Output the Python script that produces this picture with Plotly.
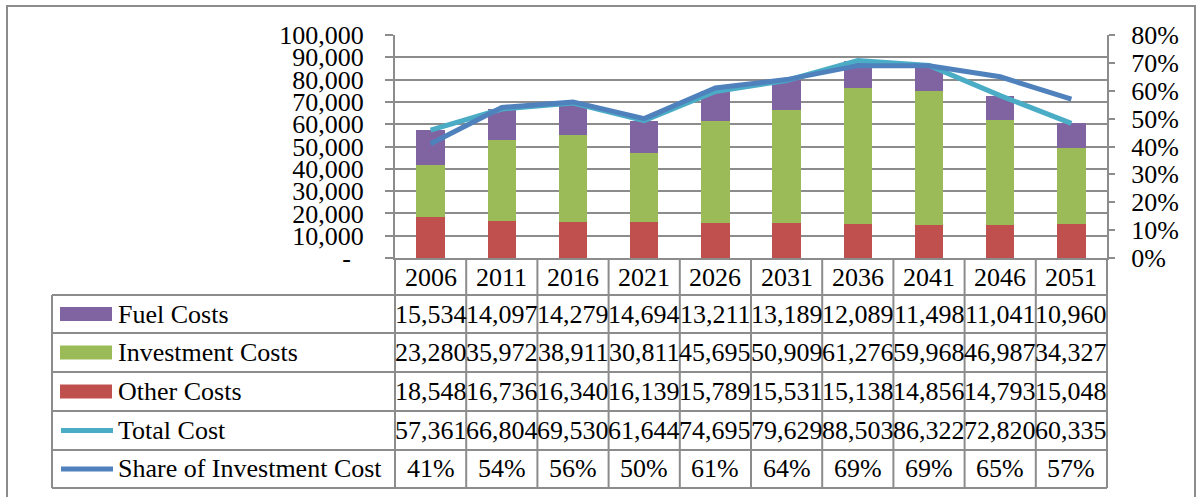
import plotly.graph_objects as go

# ---- data -------------------------------------------------------------
years = ["2006", "2011", "2016", "2021", "2026", "2031", "2036", "2041", "2046", "2051"]
fuel_costs = [15534, 14097, 14279, 14694, 13211, 13189, 12089, 11498, 11041, 10960]
investment_costs = [23280, 35972, 38911, 30811, 45695, 50909, 61276, 59968, 46987, 34327]
other_costs = [18548, 16736, 16340, 16139, 15789, 15531, 15138, 14856, 14793, 15048]
total_cost = [57361, 66804, 69530, 61644, 74695, 79629, 88503, 86322, 72820, 60335]
investment_share_pct = [41, 54, 56, 50, 61, 64, 69, 69, 65, 57]

left_ticks = [0, 10000, 20000, 30000, 40000, 50000, 60000, 70000, 80000, 90000, 100000]
right_ticks_pct = [0, 10, 20, 30, 40, 50, 60, 70, 80]

# ---- styling ----------------------------------------------------------
FONT = "Liberation Serif"
FS = 26
GRID = "#8c8c8c"
C_FUEL = "#8064A2"
C_INV = "#9BBB59"
C_OTHER = "#C0504D"
C_TOTAL = "#4BACC6"
C_SHARE = "#4F81BD"

W, H = 1198, 497
PL, PR, PT, PB = 395, 1107, 35, 258  # plot-area edges in pixels


def px_x(x):
    return (x - PL) / (PR - PL)


def px_y(y):
    return (PB - y) / (PB - PT)


def fmt_thousands(v):
    # accounting style: zero shown as a dash with padding
    return "-\u00a0\u00a0" if v == 0 else f"{v:,}"


fig = go.Figure()

fig.add_bar(x=years, y=other_costs, name="Other Costs", marker_color=C_OTHER,
            marker_line_width=0, width=0.4)
fig.add_bar(x=years, y=investment_costs, name="Investment Costs", marker_color=C_INV,
            marker_line_width=0, width=0.4)
fig.add_bar(x=years, y=fuel_costs, name="Fuel Costs", marker_color=C_FUEL,
            marker_line_width=0, width=0.4)
fig.add_scatter(x=years, y=total_cost, name="Total Cost", mode="lines",
                line=dict(color=C_TOTAL, width=5))
fig.add_scatter(x=years, y=[p / 100 for p in investment_share_pct],
                name="Share of Investment Cost", mode="lines", yaxis="y2",
                line=dict(color=C_SHARE, width=5))

tick_font = dict(family=FONT, size=FS, color="black")

fig.update_layout(
    width=W, height=H,
    margin=dict(l=PL, r=W - PR, t=PT, b=H - PB, pad=0),
    paper_bgcolor="white", plot_bgcolor="white",
    barmode="stack", showlegend=False,
    font=dict(family=FONT, size=FS, color="black"),
    xaxis=dict(type="category", categoryorder="array", categoryarray=years,
               range=[-0.5, len(years) - 0.5], showticklabels=False, ticks="",
               showgrid=False, zeroline=False, showline=True, linecolor=GRID,
               linewidth=2),
    yaxis=dict(range=[0, 100000], tickvals=left_ticks,
               ticktext=[fmt_thousands(v) for v in left_ticks],
               showgrid=True, gridcolor=GRID, gridwidth=2, zeroline=False,
               showline=True, linecolor=GRID, linewidth=2, ticks="outside",
               ticklen=8, tickwidth=2, tickcolor=GRID, tickfont=tick_font,
               ticklabelstandoff=16),
    yaxis2=dict(range=[0, 0.8], overlaying="y", side="right",
                tickvals=[p / 100 for p in right_ticks_pct],
                ticktext=[f"{p}%" for p in right_ticks_pct],
                showgrid=False, zeroline=False, showline=True, linecolor=GRID,
                linewidth=2, ticks="outside", ticklen=6, tickwidth=2,
                tickcolor=GRID, tickfont=tick_font, ticklabelstandoff=11),
)

shapes = []
line_style = dict(color=GRID, width=2)

# outer chart border
shapes.append(dict(type="rect", xref="paper", yref="paper",
                   x0=px_x(7), x1=px_x(1195), y0=px_y(499), y1=px_y(6),
                   line=dict(color=GRID, width=2), fillcolor="rgba(0,0,0,0)",
                   layer="below"))

# data table grid
row_lines = [295, 333, 372, 411, 450, 488]
for y in row_lines:
    shapes.append(dict(type="line", xref="paper", yref="paper",
                       x0=px_x(52), x1=1, y0=px_y(y), y1=px_y(y), line=line_style))
shapes.append(dict(type="line", xref="paper", yref="paper",
                   x0=px_x(52), x1=px_x(52), y0=px_y(295), y1=px_y(488), line=line_style))
n = len(years)
for k in range(n + 1):
    shapes.append(dict(type="line", xref="x domain", yref="paper",
                       x0=k / n, x1=k / n, y0=0, y1=px_y(488), line=line_style))

cell_font = dict(family=FONT, size=FS, color="black")
annotations = []
# header row with the years (category index positions on the x axis)
for idx, yr in enumerate(years):
    annotations.append(dict(x=idx, xref="x", y=px_y(277), yref="paper",
                            text=yr, showarrow=False, xanchor="center",
                            yanchor="middle", font=cell_font))

rows = [
    ("Fuel Costs", [f"{v:,}" for v in fuel_costs], C_FUEL, "box"),
    ("Investment Costs", [f"{v:,}" for v in investment_costs], C_INV, "box"),
    ("Other Costs", [f"{v:,}" for v in other_costs], C_OTHER, "box"),
    ("Total Cost", [f"{v:,}" for v in total_cost], C_TOTAL, "line"),
    ("Share of Investment Cost", [f"{p}%" for p in investment_share_pct], C_SHARE, "line"),
]
for i, (label, cells, color, key) in enumerate(rows):
    top, bot = row_lines[i], row_lines[i + 1]
    mid = (top + bot) / 2
    if key == "box":
        shapes.append(dict(type="rect", xref="paper", yref="paper",
                           x0=px_x(60), x1=px_x(112), y0=px_y(mid + 7), y1=px_y(mid - 7),
                           fillcolor=color, line=dict(width=0)))
    else:
        shapes.append(dict(type="line", xref="paper", yref="paper",
                           x0=px_x(61), x1=px_x(113), y0=px_y(mid), y1=px_y(mid),
                           line=dict(color=color, width=5)))
    annotations.append(dict(x=px_x(116), xref="paper", y=px_y(mid), yref="paper",
                            text=label, showarrow=False, xanchor="left", yanchor="middle",
                            font=cell_font))
    for idx, txt in enumerate(cells):
        annotations.append(dict(x=idx, xref="x", y=px_y(mid), yref="paper",
                                text=txt, showarrow=False, xanchor="center",
                                yanchor="middle", font=cell_font))

fig.update_layout(shapes=shapes, annotations=annotations)

fig.write_html("out.html")
